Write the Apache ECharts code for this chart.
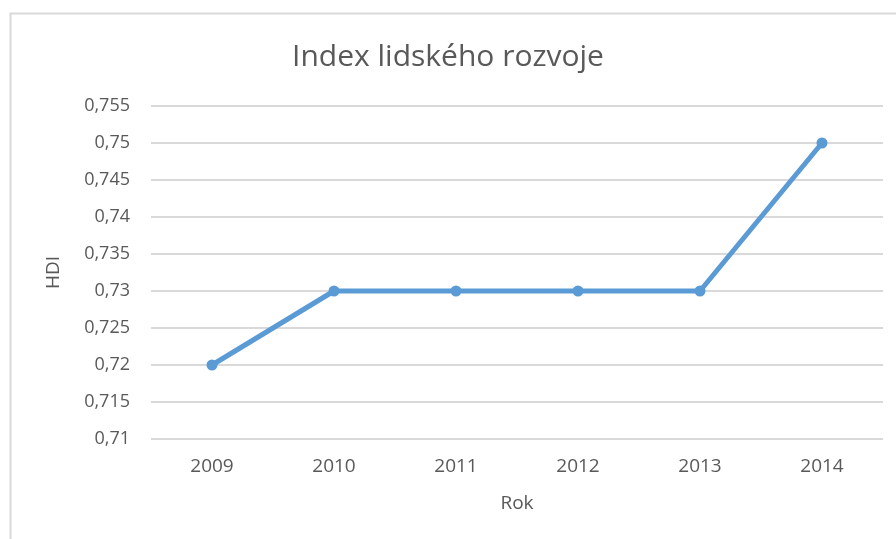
<!DOCTYPE html>
<html>
<head>
<meta charset="utf-8">
<script src="https://cdn.jsdelivr.net/npm/echarts@6/dist/echarts.min.js"></script>
<style>
  html, body { margin: 0; padding: 0; background: #fff; }
  #chart { width: 896px; height: 539px; }
</style>
</head>
<body>
<div id="chart"></div>
<script>
const years = ['2009', '2010', '2011', '2012', '2013', '2014'];
const hdiValues = [0.72, 0.73, 0.73, 0.73, 0.73, 0.75];

const textColor = '#595959';
const fontFamily = '"Open Sans", Lato, sans-serif';

const chart = echarts.init(document.getElementById('chart'));

function formatHdi(value) {
  return String(Math.round(value * 1000) / 1000).replace('.', ',');
}

chart.setOption({
  backgroundColor: '#fff',
  animation: false,
  title: {
    text: 'Index lidského rozvoje',
    left: 'center',
    top: 37,
    textStyle: { color: textColor, fontSize: 30, fontWeight: 'normal', fontFamily },
  },
  graphic: [
    {
      type: 'rect',
      shape: { x: 10.5, y: 13.5, width: 900, height: 600 },
      style: { fill: 'none', stroke: '#d9d9d9', lineWidth: 2 },
      silent: true,
    },
  ],
  grid: { left: 151, right: 13, top: 106, bottom: 100 },
  xAxis: {
    type: 'category',
    data: years,
    name: 'Rok',
    nameLocation: 'middle',
    nameGap: 55,
    nameTextStyle: { color: textColor, fontSize: 19, fontFamily },
    axisLine: { show: false },
    axisTick: { show: false },
    axisLabel: { color: textColor, fontSize: 19, margin: 18, fontFamily },
  },
  yAxis: {
    type: 'value',
    min: 0.71,
    max: 0.755,
    interval: 0.005,
    name: 'HDI',
    nameLocation: 'middle',
    nameGap: 88,
    nameTextStyle: { color: textColor, fontSize: 19, fontFamily },
    axisLine: { show: false },
    axisTick: { show: false },
    axisLabel: { color: textColor, fontSize: 18, margin: 21, fontFamily, formatter: formatHdi },
    splitLine: { lineStyle: { color: '#d9d9d9', width: 2 } },
  },
  series: [
    {
      type: 'line',
      data: hdiValues,
      symbol: 'circle',
      symbolSize: 11,
      lineStyle: { color: '#5b9bd5', width: 5 },
      itemStyle: { color: '#5b9bd5' },
    },
  ],
});
</script>
</body>
</html>
